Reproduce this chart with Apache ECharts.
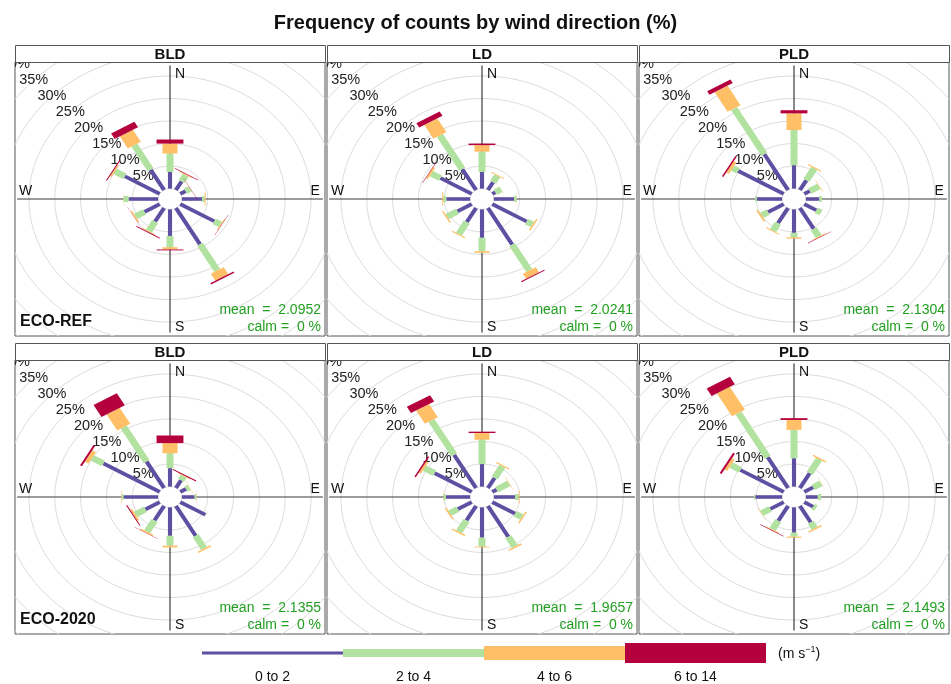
<!DOCTYPE html>
<html><head><meta charset="utf-8">
<script src="https://cdn.jsdelivr.net/npm/echarts@6/dist/echarts.min.js"></script>
<style>html,body{margin:0;padding:0;background:#fff}#c{width:951px;height:684px}</style>
</head><body><div id="c"></div>
<script>
// ---------- data ----------
const directions = [0, 30, 60, 90, 120, 150, 180, 210, 240, 270, 300, 330];
const speedBins = ['0 to 2', '2 to 4', '4 to 6', '6 to 14'];
const stripLabels = ['BLD', 'LD', 'PLD'];
const rowLabels = ['ECO-REF', 'ECO-2020'];
const meanValues = ['2.0952', '2.0241', '2.1304', '2.1355', '1.9657', '2.1493'];
const calmValues = ['0', '0', '0', '0', '0', '0'];
const percentTicks = [5, 10, 15, 20, 25, 30, 35, 40];
const cardinalLabels = ['N', 'E', 'S', 'W'];

// frequency (%) by direction; one array per speed bin (0-2, 2-4, 4-6, 6-14)
const BLD_REF = [
  [3.7, 2.2, 1.2, 3.9, 7.6, 9.3, 5.9, 3.5, 3.4, 5.7, 7.8, 5.2],
  [4.1, 1.6, 1.0, 0.5, 1.4, 6.7, 2.5, 2.4, 2.0, 1.0, 2.2, 6.3],
  [2.2, 0.2, 0.05, 0.2, 0.2, 1.8, 0.5, 0.2, 0.3, 0.05, 0.3, 3.1],
  [0.9, 0.15, 0.05, 0, 0.05, 0.3, 0.2, 0.2, 0.05, 0, 0.2, 1.4]
];
const LD_REF = [
  [3.7, 2.0, 0.7, 3.9, 7.7, 9.4, 6.3, 3.6, 3.2, 4.6, 7.0, 5.35],
  [4.5, 1.65, 1.25, 0.5, 1.3, 6.6, 3.0, 3.05, 2.3, 0.6, 2.0, 8.65],
  [1.45, 0.2, 0.05, 0.05, 0.3, 1.3, 0.35, 0.25, 0.3, 0.2, 0.4, 3.5],
  [0.35, 0, 0, 0, 0, 0.2, 0, 0, 0, 0, 0.1, 1.1]
];
const PLD_REF = [
  [5.2, 2.5, 1.25, 2.6, 2.7, 5.35, 5.2, 3.9, 3.5, 4.9, 10.2, 9.2],
  [7.8, 3.05, 2.05, 0.5, 1.05, 1.95, 1.0, 1.9, 1.45, 0.3, 1.2, 11.7],
  [3.7, 0.25, 0.1, 0, 0, 0.2, 0.3, 0.2, 0.35, 0, 0.6, 5.0],
  [0.7, 0, 0, 0, 0, 0.1, 0, 0, 0, 0, 0.3, 0.9]
];
const BLD_2020 = [
  [4.1, 2.0, 1.3, 2.45, 5.6, 7.65, 6.3, 3.7, 3.2, 6.7, 12.6, 6.8],
  [3.3, 1.0, 0.7, 0.35, 0.1, 3.25, 2.2, 2.9, 2.2, 0.3, 2.5, 8.8],
  [2.25, 0.2, 0.05, 0.05, 0, 0.3, 0.4, 0.3, 0.4, 0.1, 0.8, 4.1],
  [1.7, 0.2, 0, 0, 0, 0, 0, 0.05, 0.2, 0, 0.4, 3.1]
];
const LD_2020 = [
  [5.0, 2.6, 1.0, 4.1, 5.1, 7.9, 6.7, 3.7, 3.1, 4.7, 8.3, 8.5],
  [5.4, 3.0, 2.7, 0.7, 1.5, 2.5, 2.0, 2.9, 1.8, 0.45, 2.25, 8.8],
  [1.5, 0.25, 0.1, 0.15, 0.3, 0.3, 0.2, 0.3, 0.3, 0.05, 0.45, 3.4],
  [0.3, 0, 0, 0, 0, 0, 0, 0, 0, 0, 0.3, 1.6]
];
const PLD_2020 = [
  [6.3, 3.8, 2.0, 2.3, 2.0, 4.2, 5.6, 3.8, 3.0, 5.2, 9.7, 7.9],
  [6.3, 3.6, 1.75, 0.65, 0.6, 1.5, 0.9, 2.2, 1.9, 0.2, 2.1, 11.3],
  [2.2, 0.3, 0.05, 0, 0, 0.3, 0.25, 0.2, 0.1, 0, 0.6, 5.9],
  [0.4, 0, 0, 0, 0, 0, 0, 0.1, 0, 0, 0.4, 1.9]
];
const panelData = [BLD_REF, LD_REF, PLD_REF, BLD_2020, LD_2020, PLD_2020];

// ---------- style ----------
const binColors = ['#5E4FA2', '#B2E29F', '#FEBF66', '#B5003E'];
const BAR_WIDTHS = [0.8, 1.35, 2.9, 5.2];   // full bar width in % units
const HOLE = 2.3;                           // centre offset in % units
const AXIS_EXTENT = 29.6;
const X_RANGE = 30, Y_RANGE = 30.4;
const FONT = '"Liberation Sans", Arial, sans-serif';
const GREEN = '#22A022';

const colX = [15, 327, 639];
const PW = 310;
const stripTop = [45, 343];
const STRIP_H = 17;
const PH = 274;

const grids = [], xAxes = [], yAxes = [], series = [], graphics = [];

function gridRenderer(params, api) {
  const p = api.value(0);
  const r = p + HOLE;
  const pts = [];
  for (let a = 0; a <= 360; a += 3) {
    const t = a * Math.PI / 180;
    pts.push(api.coord([r * Math.sin(t), r * Math.cos(t)]));
  }
  const lp = api.coord([-r * Math.SQRT1_2, r * Math.SQRT1_2]);
  return {
    type: 'group', children: [
      { type: 'polyline', shape: { points: pts }, style: { stroke: '#dcdcdc', lineWidth: 1, fill: null }, z2: 1 },
      { type: 'text', x: lp[0], y: lp[1], style: { text: p + '%', fill: '#222', font: '14.5px ' + FONT, align: 'center', verticalAlign: 'middle' }, z2: 50 }
    ]
  };
}

function frameRenderer(params, api) {
  const l = api.coord([-AXIS_EXTENT, 0]), r = api.coord([AXIS_EXTENT, 0]);
  const t = api.coord([0, AXIS_EXTENT]), b = api.coord([0, -AXIS_EXTENT]);
  const hole = [];
  for (let a = 0; a <= 360; a += 6) {
    const th = a * Math.PI / 180;
    hole.push(api.coord([HOLE * Math.sin(th), HOLE * Math.cos(th)]));
  }
  const ts = { fill: '#111', font: '14px ' + FONT, verticalAlign: 'middle' };
  return {
    type: 'group', children: [
      { type: 'line', shape: { x1: l[0], y1: l[1], x2: r[0], y2: r[1] }, style: { stroke: '#3a3a3a', lineWidth: 1.2 }, z2: 2 },
      { type: 'line', shape: { x1: t[0], y1: t[1], x2: b[0], y2: b[1] }, style: { stroke: '#3a3a3a', lineWidth: 1.2 }, z2: 2 },
      { type: 'polygon', shape: { points: hole }, style: { fill: '#fff', stroke: '#e2e2e2', lineWidth: 1 }, z2: 3 },
      { type: 'text', x: t[0] + 5, y: t[1] + 9, style: Object.assign({ text: cardinalLabels[0], align: 'left' }, ts), z2: 50 },
      { type: 'text', x: r[0] - 3, y: r[1] - 8, style: Object.assign({ text: cardinalLabels[1], align: 'right' }, ts), z2: 50 },
      { type: 'text', x: b[0] + 5, y: b[1] - 5, style: Object.assign({ text: cardinalLabels[2], align: 'left' }, ts), z2: 50 },
      { type: 'text', x: l[0] + 2, y: l[1] - 8, style: Object.assign({ text: cardinalLabels[3], align: 'left' }, ts), z2: 50 }
    ]
  };
}

function barRenderer(params, api) {
  const dir = api.value(0) * Math.PI / 180;
  const bin = api.value(1);
  const a = api.value(2), e = api.value(3);
  if (!(e > a)) return null;
  const l1 = a + HOLE, l2 = e + HOLE;
  const w = BAR_WIDTHS[bin] / 2;
  const s = Math.sin(dir), c = Math.cos(dir);
  const pts = [
    [l1 * s - w * c, l1 * c + w * s],
    [l1 * s + w * c, l1 * c - w * s],
    [l2 * s + w * c, l2 * c - w * s],
    [l2 * s - w * c, l2 * c + w * s]
  ].map(q => api.coord(q));
  return { type: 'polygon', shape: { points: pts }, style: { fill: binColors[bin] }, z2: 10 + bin };
}

panelData.forEach((bins, i) => {
  const row = Math.floor(i / 3), col = i % 3;
  const left = colX[col], top = stripTop[row] + STRIP_H;
  grids.push({ left: left, top: top, width: PW, height: PH, show: true, borderColor: '#555', borderWidth: 1, backgroundColor: '#fff' });
  xAxes.push({ gridIndex: i, type: 'value', min: -X_RANGE, max: X_RANGE, show: false });
  yAxes.push({ gridIndex: i, type: 'value', min: -Y_RANGE, max: Y_RANGE, show: false });

  series.push({
    type: 'custom', xAxisIndex: i, yAxisIndex: i, clip: true, silent: true, z: 1,
    renderItem: gridRenderer, data: percentTicks.map(p => [p, 0])
  });
  series.push({
    type: 'custom', xAxisIndex: i, yAxisIndex: i, clip: true, silent: true, z: 2,
    renderItem: frameRenderer, data: [[0, 0]]
  });
  const items = [];
  directions.forEach((d, k) => {
    let cum = 0;
    bins.forEach((arr, b) => {
      const v = arr[k];
      items.push([d, b, cum, cum + v]);
      cum += v;
    });
  });
  series.push({
    type: 'custom', xAxisIndex: i, yAxisIndex: i, clip: true, silent: true, z: 3,
    renderItem: barRenderer, data: items, encode: { x: 0, y: 2 }
  });

  // strip
  graphics.push({ type: 'rect', left: left, top: stripTop[row], shape: { width: PW, height: STRIP_H }, style: { fill: '#fff', stroke: '#555', lineWidth: 1 }, z: 10 });
  graphics.push({ type: 'text', x: left + PW / 2, y: stripTop[row] + STRIP_H / 2 + 1, style: { text: stripLabels[col], font: 'bold 15px ' + FONT, fill: '#111', align: 'center', verticalAlign: 'middle' }, z: 11 });
  // mean / calm
  graphics.push({ type: 'text', x: left + PW - 4, y: top + PH - 26, style: { text: 'mean  =  ' + meanValues[i], font: '14px ' + FONT, fill: GREEN, align: 'right', verticalAlign: 'middle' }, z: 11 });
  graphics.push({ type: 'text', x: left + PW - 4, y: top + PH - 9, style: { text: 'calm =  ' + calmValues[i] + ' %', font: '14px ' + FONT, fill: GREEN, align: 'right', verticalAlign: 'middle' }, z: 11 });
  if (col === 0) {
    graphics.push({ type: 'text', x: left + 5, y: top + PH - 14, style: { text: rowLabels[row], font: 'bold 16px ' + FONT, fill: '#111', align: 'left', verticalAlign: 'middle' }, z: 11 });
  }
});

// legend key
const LEG_X = 202, LEG_SEG = 141, LEG_Y = 653;
const legH = [3, 8, 14, 20];
speedBins.forEach((lab, b) => {
  graphics.push({ type: 'rect', shape: { x: LEG_X + b * LEG_SEG, y: LEG_Y - legH[b] / 2, width: LEG_SEG, height: legH[b] }, style: { fill: binColors[b] }, z: 5 });
  graphics.push({ type: 'text', x: LEG_X + b * LEG_SEG + LEG_SEG / 2, y: 677, style: { text: lab, font: '14px ' + FONT, fill: '#111', align: 'center', verticalAlign: 'middle' }, z: 5 });
});
graphics.push({
  type: 'text', x: LEG_X + 4 * LEG_SEG + 12, y: LEG_Y + 1,
  style: {
    text: '{a|(m s}{b|−1}{a|)}', align: 'left', verticalAlign: 'middle',
    rich: { a: { font: '14px ' + FONT, fill: '#111' }, b: { font: '9px ' + FONT, fill: '#111', padding: [0, 0, 9, 0] } }
  }, z: 5
});

const chart = echarts.init(document.getElementById('c'), null, { renderer: 'canvas' });
chart.setOption({
  animation: false,
  backgroundColor: '#fff',
  title: { text: 'Frequency of counts by wind direction (%)', left: 'center', top: 8, textStyle: { fontFamily: FONT, fontSize: 20, fontWeight: 'bold', color: '#111' } },
  grid: grids, xAxis: xAxes, yAxis: yAxes, series: series, graphic: graphics
});
</script></body></html>
